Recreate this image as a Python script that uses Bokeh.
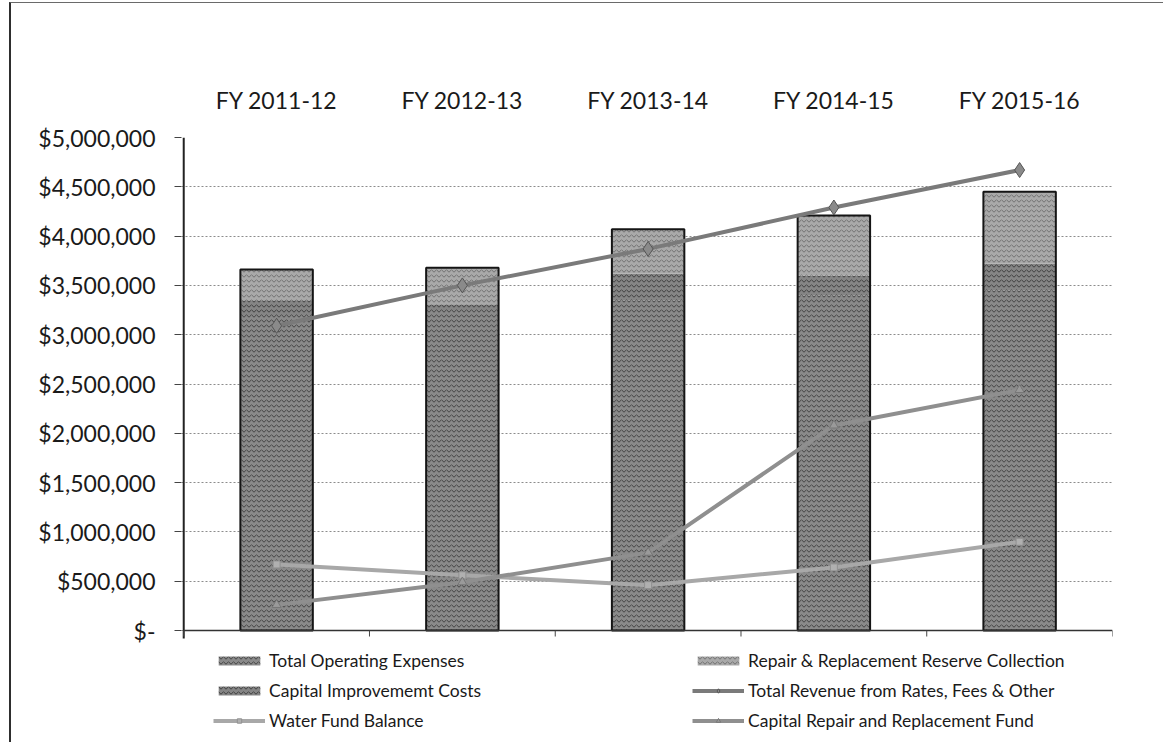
from bokeh.plotting import figure
from bokeh.models import (Range1d, FixedTicker, NumeralTickFormatter,
                          Legend, LegendItem, ColumnDataSource, LinearAxis)
from bokeh.embed import file_html
from bokeh.resources import INLINE

# Fiscal years shown across the top
years = ["FY 2011-12", "FY 2012-13", "FY 2013-14", "FY 2014-15", "FY 2015-16"]

# Stacked bar components ($)
operating_expenses = [3200000, 3250000, 3350000, 3400000, 3450000]
capital_improvement = [150000, 60000, 270000, 200000, 270000]
reserve_collection = [310000, 370000, 450000, 610000, 730000]

# Line series ($)
total_revenue = [3090000, 3500000, 3870000, 4290000, 4670000]
water_fund_balance = [670000, 560000, 460000, 640000, 900000]
capital_rr_fund = [260000, 490000, 790000, 2080000, 2440000]

Y_MAX = 5000000
y_ticks = list(range(0, Y_MAX + 1, 500000))

centers = [i + 0.5 for i in range(len(years))]
bounds = list(range(len(years) + 1))

src = ColumnDataSource(dict(
    x=centers,
    ops=operating_expenses,
    cap=capital_improvement,
    rr=reserve_collection,
    total=[a + b + c for a, b, c in zip(operating_expenses, capital_improvement, reserve_collection)],
    rev=total_revenue,
    wfb=water_fund_balance,
    crr=capital_rr_fund,
))

FONT = "Lato"

# Layout: the plotting frame runs past the zero baseline down to the bottom
# edge so that the legend can sit inside it, under the bars.
W, H = 1154, 740
TOP = 134            # frame top (5,000,000)
ZERO = 627           # pixel row of the zero baseline
units_per_px = Y_MAX / (ZERO - TOP)
y_start = -(H - ZERO) * units_per_px
cat_px = 185.8
x_start = -0.012
frame_left = 172 + x_start * cat_px

p = figure(width=W, height=H,
           x_range=Range1d(x_start, len(years)), y_range=Range1d(y_start, Y_MAX),
           output_backend="svg", toolbar_location=None,
           x_axis_location=None, y_axis_location="left",
           min_border_left=int(round(frame_left)), min_border_right=53,
           min_border_top=TOP, min_border_bottom=0)
p.margin = (2, 0, 0, 9)
p.styles = {"border-left": "2px solid #2e2e2e", "border-top": "1px solid #6a6a6a"}
p.outline_line_color = None
p.background_fill_color = "white"
p.border_fill_color = "white"
p.xgrid.visible = False

# value axis (line drawn separately so it stops just below zero)
p.yaxis.ticker = FixedTicker(ticks=y_ticks)
p.yaxis.formatter = NumeralTickFormatter(format="$0,0")
p.yaxis.major_label_overrides = {0: "$-"}
p.yaxis.major_label_text_font = FONT
p.yaxis.major_label_text_font_size = "23px"
p.yaxis.major_label_text_color = "#1a1a1a"
p.yaxis.major_label_standoff = 19
p.yaxis.axis_line_color = None
p.yaxis.major_tick_line_color = "#444444"
p.yaxis.major_tick_out = 7
p.yaxis.major_tick_in = 0
p.yaxis.minor_tick_line_color = None
p.segment(x0=[0], y0=[-8 * units_per_px], x1=[0], y1=[Y_MAX],
          line_color="#222222", line_width=2)

p.ygrid.grid_line_color = "#8c8c8c"
p.ygrid.grid_line_dash = "2 2"
p.ygrid.grid_line_width = 1

# category labels along the top
top_axis = LinearAxis(ticker=FixedTicker(ticks=centers),
                      major_label_overrides={c: y for c, y in zip(centers, years)},
                      axis_line_color=None, major_tick_line_color=None,
                      minor_tick_line_color=None,
                      major_label_standoff=18,
                      major_label_text_font=FONT,
                      major_label_text_font_size="23px",
                      major_label_text_color="#1a1a1a")
p.add_layout(top_axis, "above")

# stacked bars
bars = p.vbar_stack(["ops", "cap", "rr"], x="x", width=0.39, source=src,
                    fill_color=["#8a8a8a", "#858585", "#a9a9a9"],
                    line_color=None,
                    hatch_pattern=["horizontal_wave", "horizontal_wave", "horizontal_wave"],
                    hatch_color=["#2b2b2b", "#262626", "#4a4a4a"],
                    hatch_scale=[5, 5, 5], hatch_weight=[1, 1, 1],
                    hatch_alpha=[0.75, 0.75, 0.6])
# bar edges
p.vbar(x="x", top="total", bottom=0, width=0.39, source=src,
       fill_color=None, line_color="#151515", line_width=2)

# zero baseline with tick marks between the fiscal years
p.segment(x0=[0], y0=[0], x1=[len(years)], y1=[0], line_color="#333333", line_width=1.5)
p.segment(x0=bounds, y0=[0] * len(bounds), x1=bounds,
          y1=[-6 * units_per_px] * len(bounds), line_color="#444444", line_width=1)

# lines
rev_line = p.line("x", "rev", source=src, line_color="#7a7a7a", line_width=4)
rev_pts = p.scatter("x", "rev", source=src, marker="diamond", size=15,
                    fill_color="#8a8a8a", line_color="#555555")
wfb_line = p.line("x", "wfb", source=src, line_color="#a8a8a8", line_width=4)
wfb_pts = p.scatter("x", "wfb", source=src, marker="square", size=7,
                    fill_color="#b0b0b0", line_color="#909090")
crr_line = p.line("x", "crr", source=src, line_color="#8f8f8f", line_width=4)
crr_pts = p.scatter("x", "crr", source=src, marker="triangle", size=9,
                    fill_color="#9a9a9a", line_color="#777777")

legend_style = dict(border_line_color=None, background_fill_color=None,
                    background_fill_alpha=0, padding=0, margin=0, spacing=9,
                    glyph_width=52, glyph_height=11, label_height=20,
                    label_standoff=4, label_text_font=FONT,
                    label_text_font_size="17.5px", label_text_color="#1a1a1a")

left_legend = Legend(items=[
    LegendItem(label="Total Operating Expenses", renderers=[bars[0]]),
    LegendItem(label="Capital Improvememt Costs", renderers=[bars[1]]),
    LegendItem(label="Water Fund Balance", renderers=[wfb_line, wfb_pts]),
], location=(int(round(202 - frame_left)), 12), **legend_style)

right_legend = Legend(items=[
    LegendItem(label="Repair & Replacement Reserve Collection", renderers=[bars[2]]),
    LegendItem(label="Total Revenue from Rates, Fees & Other", renderers=[rev_line, rev_pts]),
    LegendItem(label="Capital Repair and Replacement Fund", renderers=[crr_line, crr_pts]),
], location=(int(round(681 - frame_left)), 12), **legend_style)

p.add_layout(left_legend, "center")
p.add_layout(right_legend, "center")

open("out.html", "w").write(file_html(p, INLINE))
